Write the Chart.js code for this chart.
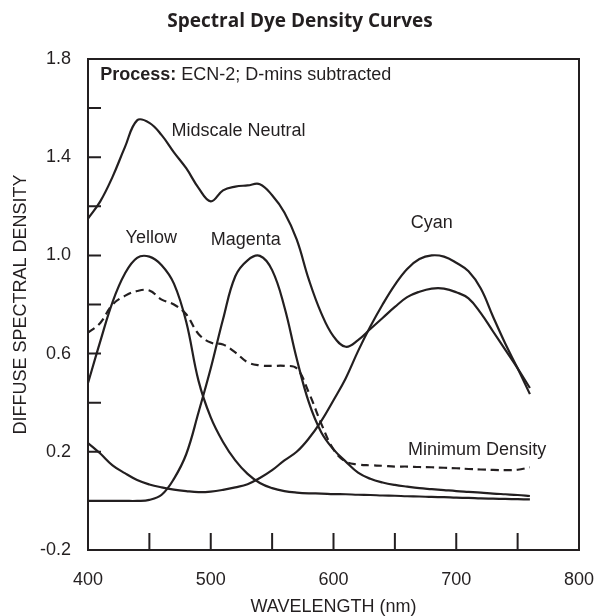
<!DOCTYPE html>
<html>
<head>
<meta charset="utf-8">
<script src="https://cdn.jsdelivr.net/npm/chart.js@4.4.1/dist/chart.umd.min.js"></script>
<style>
  html, body { margin: 0; padding: 0; background: #fff; }
  canvas { display: block; }
</style>
</head>
<body>
<canvas id="chartDye" width="600" height="616"></canvas>
<script>
// wavelength grid (nm) and diffuse spectral density
var wavelengths = [400, 410, 420, 430, 440, 450, 460, 470, 480, 490, 500, 510, 520,
    530, 540, 550, 560, 570, 580, 590, 600, 610, 620, 630, 640, 650, 660, 670, 680,
    690, 700, 710, 720, 730, 740, 750, 760];

var neutral = [1.15, 1.22, 1.32, 1.44, 1.55, 1.54, 1.49, 1.42, 1.355, 1.275, 1.22, 1.265,
    1.28, 1.285, 1.29, 1.245, 1.175, 1.065, 0.90, 0.765, 0.67, 0.628, 0.655, 0.70, 0.745,
    0.79, 0.83, 0.852, 0.865, 0.865, 0.85, 0.825, 0.765, 0.69, 0.615, 0.54, 0.46];

var yellow = [0.48, 0.65, 0.81, 0.925, 0.99, 0.995, 0.96, 0.885, 0.73, 0.49, 0.34, 0.24,
    0.165, 0.11, 0.073, 0.052, 0.04, 0.034, 0.031, 0.03, 0.028, 0.027, 0.025, 0.024, 0.022,
    0.021, 0.019, 0.018, 0.016, 0.015, 0.013, 0.012, 0.01, 0.009, 0.008, 0.007, 0.006];

var magenta = [0, 0, 0, 0, 0, 0.004, 0.025, 0.09, 0.19, 0.36, 0.54, 0.74, 0.915, 0.98,
    0.998, 0.94, 0.79, 0.58, 0.40, 0.28, 0.21, 0.16, 0.115, 0.09, 0.075, 0.065, 0.058,
    0.052, 0.048, 0.044, 0.04, 0.037, 0.034, 0.03, 0.027, 0.024, 0.02];

var cyan = [0.236, 0.193, 0.145, 0.113, 0.085, 0.067, 0.055, 0.046, 0.04, 0.036, 0.038,
    0.045, 0.055, 0.068, 0.093, 0.125, 0.165, 0.20, 0.255, 0.325, 0.41, 0.50, 0.61, 0.71,
    0.80, 0.88, 0.945, 0.985, 1.0, 0.995, 0.97, 0.935, 0.865, 0.75, 0.64, 0.54, 0.435];

var minDensity = [0.685, 0.725, 0.80, 0.835, 0.855, 0.857, 0.82, 0.80, 0.76, 0.68, 0.645,
    0.637, 0.605, 0.565, 0.552, 0.55, 0.55, 0.54, 0.44, 0.315, 0.21, 0.16, 0.148, 0.145,
    0.143, 0.14, 0.14, 0.138, 0.137, 0.135, 0.133, 0.13, 0.128, 0.126, 0.125, 0.127, 0.137];

var xTicks = [400, 500, 600, 700, 800];
var yTicks = [-0.2, 0.2, 0.6, 1.0, 1.4, 1.8];
var xMarks = [450, 500, 550, 600, 650, 700, 750];
var yMarks = [0, 0.2, 0.4, 0.6, 0.8, 1.0, 1.2, 1.4, 1.6];

var ink = '#231f20';
var sans = '"Liberation Sans", Arial, Helvetica, sans-serif';

// curve names, placed in data units
var curveLabels = [
    { text: 'Midscale Neutral', nm: 468, d: 1.486, align: 'left' },
    { text: 'Yellow', nm: 451.5, d: 1.05, align: 'center' },
    { text: 'Magenta', nm: 528.5, d: 1.042, align: 'center' },
    { text: 'Cyan', nm: 680, d: 1.112, align: 'center' },
    { text: 'Minimum Density', nm: 717, d: 0.187, align: 'center' }
];

function points(values) {
    return wavelengths.map(function (w, i) { return { x: w, y: values[i] }; });
}

function curve(label, values, dashed) {
    return {
        label: label,
        data: points(values),
        borderColor: ink,
        borderWidth: 2.2,
        borderDash: dashed ? [8, 5] : [],
        pointRadius: 0,
        fill: false,
        tension: 0.4
    };
}

var frame = {
    id: 'frame',
    afterDatasetsDraw: function (chart) {
        var ctx = chart.ctx, a = chart.chartArea;
        var x = chart.scales.x, y = chart.scales.y;
        ctx.save();
        ctx.strokeStyle = ink;
        ctx.lineWidth = 2;
        ctx.setLineDash([]);
        ctx.strokeRect(a.left, a.top, a.right - a.left, a.bottom - a.top);
        ctx.beginPath();
        yMarks.forEach(function (v) {
            var py = y.getPixelForValue(v);
            ctx.moveTo(a.left, py);
            ctx.lineTo(a.left + 13, py);
        });
        xMarks.forEach(function (v) {
            var px = x.getPixelForValue(v);
            ctx.moveTo(px, a.bottom);
            ctx.lineTo(px, a.bottom - 17);
        });
        ctx.stroke();

        ctx.fillStyle = ink;
        ctx.textBaseline = 'alphabetic';
        ctx.font = '18px ' + sans;
        curveLabels.forEach(function (l) {
            ctx.textAlign = l.align;
            ctx.fillText(l.text, x.getPixelForValue(l.nm), y.getPixelForValue(l.d));
        });

        // header note inside the plot
        var hx = x.getPixelForValue(410), hy = y.getPixelForValue(1.714);
        ctx.textAlign = 'left';
        ctx.font = 'bold 18px ' + sans;
        ctx.fillText('Process:', hx, hy);
        var w = ctx.measureText('Process: ').width;
        ctx.font = '18px ' + sans;
        ctx.fillText('ECN-2; D-mins subtracted', hx + w, hy);
        ctx.restore();
    }
};

var chartDye = new Chart(document.getElementById('chartDye'), {
    type: 'line',
    data: {
        datasets: [
            curve('Midscale Neutral', neutral),
            curve('Yellow', yellow),
            curve('Magenta', magenta),
            curve('Cyan', cyan),
            curve('Minimum Density', minDensity, true)
        ]
    },
    options: {
        responsive: false,
        animation: false,
        layout: { padding: 0 },
        plugins: {
            legend: { display: false },
            tooltip: { enabled: false },
            title: {
                display: true,
                text: 'Spectral Dye Density Curves',
                color: ink,
                font: { family: '"Open Sans", sans-serif', size: 19, weight: 'bold', lineHeight: 1.2 },
                padding: { top: 10, bottom: 26.2 }
            }
        },
        scales: {
            x: {
                type: 'linear',
                min: 400,
                max: 800,
                afterBuildTicks: function (s) { s.ticks = xTicks.map(function (v) { return { value: v }; }); },
                afterFit: function (s) {
                    s.height = 66;
                    s.paddingLeft = 0;
                    s.paddingRight = 21;
                },
                grid: { display: false, drawTicks: false },
                border: { display: false },
                ticks: { padding: 19, color: ink, font: { family: sans, size: 18 }, maxRotation: 0,
                    callback: function (v) { return String(v); } },
                title: { display: true, text: 'WAVELENGTH (nm)', color: ink,
                    font: { family: sans, size: 18, lineHeight: 1 }, padding: 0 }
            },
            y: {
                min: -0.2,
                max: 1.8,
                afterBuildTicks: function (s) { s.ticks = yTicks.map(function (v) { return { value: v }; }); },
                afterFit: function (s) { s.width = 88; },
                grid: { display: false, drawTicks: false },
                border: { display: false },
                ticks: { padding: 17, color: ink, font: { family: sans, size: 18 },
                    callback: function (v) { return v.toFixed(1); } },
                title: { display: true, text: 'DIFFUSE SPECTRAL DENSITY', color: ink,
                    font: { family: sans, size: 18, lineHeight: 1 }, padding: { top: 12, bottom: 0 } }
            }
        }
    },
    plugins: [frame]
});
</script>
</body>
</html>
